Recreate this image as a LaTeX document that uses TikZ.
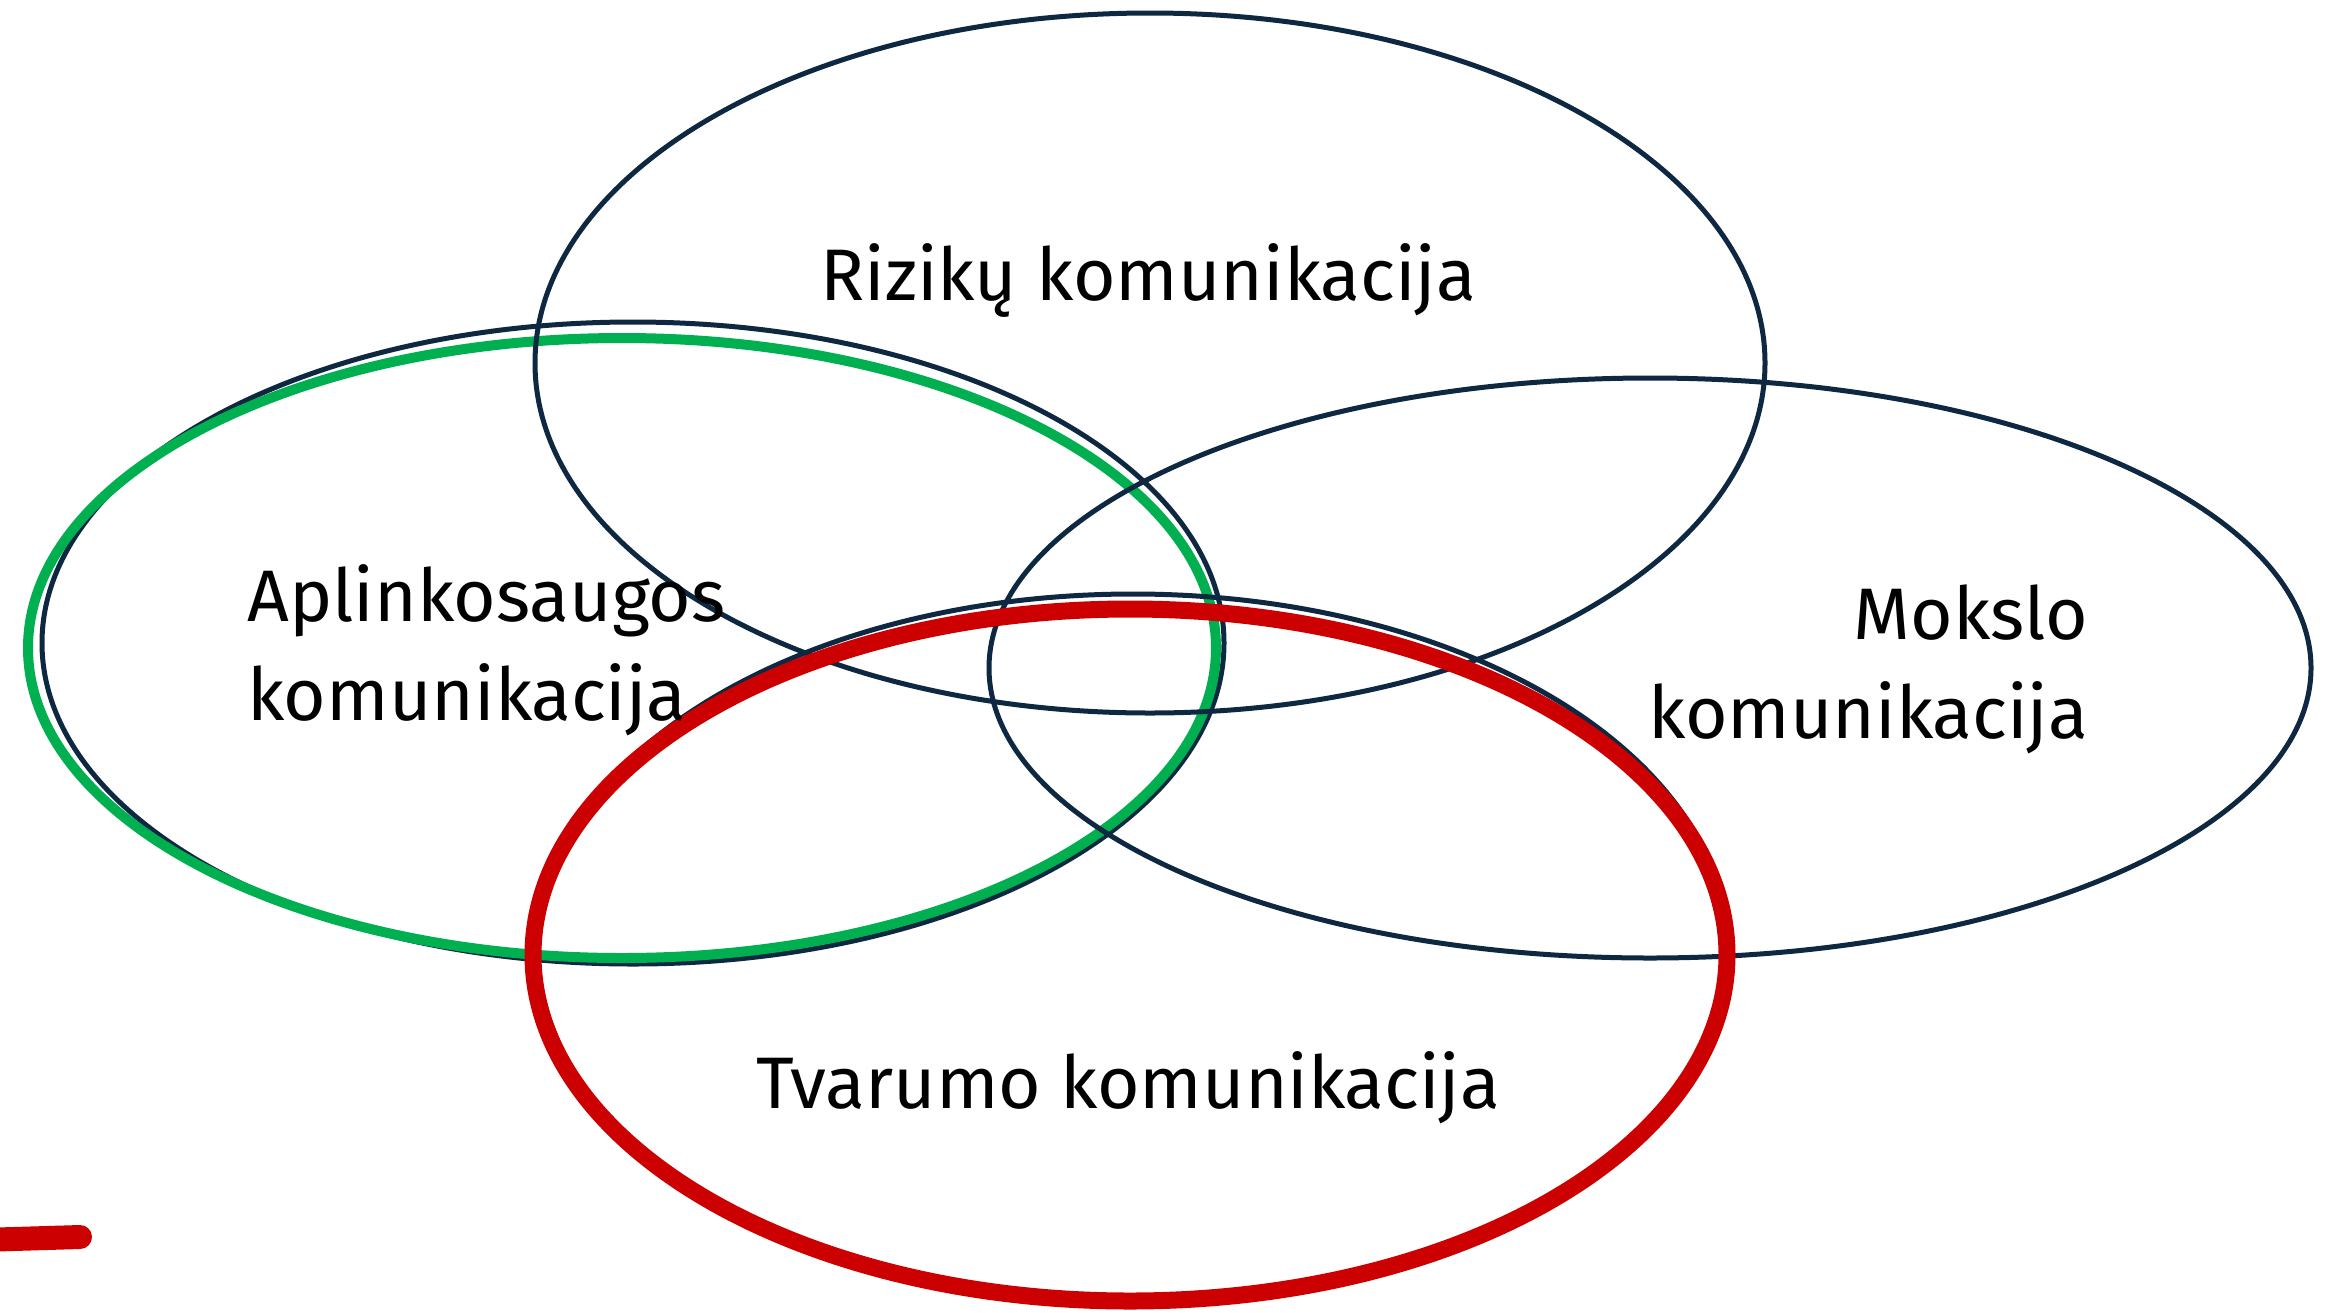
\documentclass[tikz,border=0pt]{standalone}
\usepackage{fontspec}
\setmainfont{Fira Sans}
\definecolor{darkline}{RGB}{14,40,65}
\definecolor{greenline}{RGB}{0,176,80}
\definecolor{redline}{RGB}{204,0,0}
\tikzset{
  darkring/.style={draw=darkline, line width=5pt},
  greenring/.style={draw=greenline, line width=10pt},
  redring/.style={draw=redline, line width=17pt},
  lbl/.style={inner sep=0pt, font=\fontsize{73}{99}\selectfont, text=black}
}
\begin{document}
\begin{tikzpicture}[x=1pt,y=-1pt]
\useasboundingbox (0,0) rectangle (2325,1312);
% left (Aplinkosaugos)
\draw[darkring] (633,643) ellipse [x radius=591, y radius=321];
\draw[greenring] (622,648) ellipse [x radius=594, y radius=310];
% top (Riziku)
\draw[darkring] (1150,363) ellipse [x radius=615, y radius=350];
% right (Mokslo)
\draw[darkring] (1650,668) ellipse [x radius=661, y radius=290];
% bottom (Tvarumo)
\draw[darkring] (1133,950) ellipse [x radius=595, y radius=356];
\draw[redring] (1130,955) ellipse [x radius=597, y radius=346];
% red mark
\coordinate (m1) at (-20,1240);
\coordinate (m2) at (80,1237);
\draw[draw=redline, line width=24pt, line cap=round] (m1) -- (m2);
% labels
\node[lbl, anchor=base] (riz) at (1148,300) {Rizikų komunikacija};
\node[lbl, anchor=base west, align=left] (apl) at (247,720) {Aplinkosaugos\\komunikacija};
\node[lbl, anchor=base east, align=right] (mok) at (2088,738) {Mokslo\\komunikacija};
\node[lbl, anchor=base] (tva) at (1128,1108) {Tvarumo komunikacija};
\end{tikzpicture}
\end{document}
